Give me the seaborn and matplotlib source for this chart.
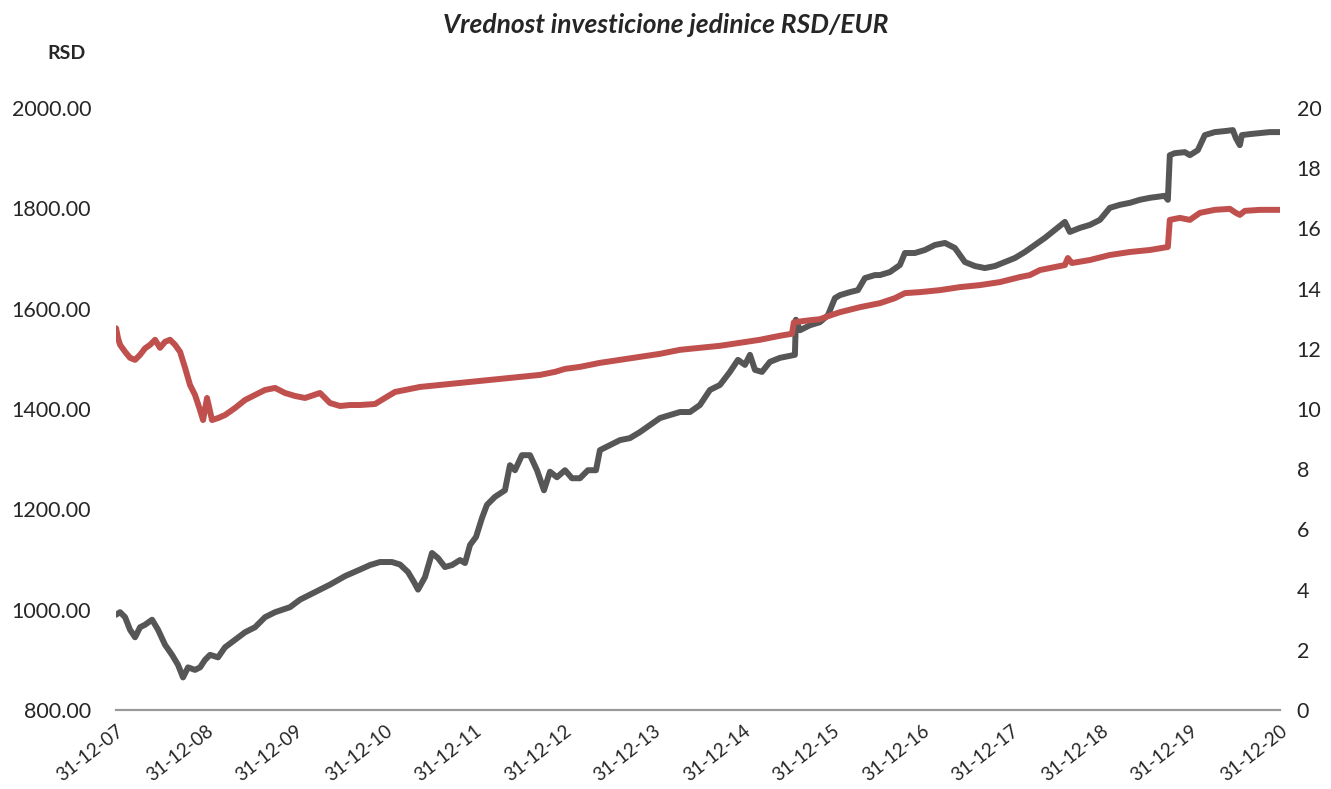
import numpy as np
import pandas as pd
import matplotlib
matplotlib.use("Agg")
import matplotlib.pyplot as plt
from matplotlib.ticker import FormatStrFormatter, MultipleLocator
import seaborn as sns

# -----------------------------
# Data, x = years since 31-12-2007
# -----------------------------
t_rsd = [0.000, 0.045, 0.101, 0.156, 0.212, 0.268, 0.324, 0.402, 0.469, 0.547,
         0.625, 0.692, 0.748, 0.804, 0.882, 0.938, 0.994, 1.050, 1.139, 1.217,
         1.329, 1.441, 1.552, 1.664, 1.776, 1.943, 2.055, 2.222, 2.390, 2.558,
         2.725, 2.837, 2.948, 3.082, 3.172, 3.261, 3.328, 3.373, 3.451, 3.529,
         3.596, 3.674, 3.753, 3.842, 3.898, 3.954, 4.021, 4.088, 4.143, 4.233,
         4.344, 4.400, 4.456, 4.534, 4.624, 4.702, 4.780, 4.847, 4.925, 5.015,
         5.093, 5.182, 5.271, 5.361, 5.405, 5.517, 5.629, 5.740, 5.852, 5.964,
         6.076, 6.187, 6.299, 6.411, 6.522, 6.634, 6.746, 6.857, 6.947, 7.025,
         7.081, 7.137, 7.215, 7.304, 7.416, 7.527, 7.583, 7.594, 7.639, 7.751,
         7.862, 7.952, 8.030, 8.086, 8.198, 8.287, 8.365, 8.477, 8.533, 8.644,
         8.756, 8.812, 8.923, 9.035, 9.147, 9.259, 9.370, 9.482, 9.594, 9.705,
         9.817, 9.929, 10.040, 10.152, 10.264, 10.375, 10.487, 10.599, 10.654, 10.766,
         10.878, 10.990, 11.101, 11.213, 11.325, 11.436, 11.548, 11.716, 11.749, 11.771,
         11.827, 11.939, 11.995, 12.084, 12.162, 12.274, 12.386, 12.475, 12.509, 12.553,
         12.576, 12.665, 12.777, 12.888, 13.000]
rsd = [990, 995, 985, 960, 945, 965, 970, 980, 960, 930,
       910, 890, 865, 885, 880, 885, 900, 910, 905, 925,
       940, 955, 965, 985, 995, 1005, 1020, 1035, 1050, 1067,
       1080, 1089, 1095, 1095, 1090, 1075, 1055, 1040, 1065, 1113,
       1103, 1085, 1089, 1099, 1093, 1129, 1145, 1183, 1209, 1225,
       1238, 1288, 1278, 1308, 1308, 1278, 1238, 1275, 1264, 1278,
       1262, 1262, 1278, 1278, 1318, 1328, 1338, 1342, 1354, 1368,
       1382, 1388, 1394, 1394, 1408, 1438, 1448, 1474, 1498, 1488,
       1508, 1478, 1474, 1494, 1502, 1506, 1508, 1578, 1557, 1567,
       1573, 1587, 1621, 1627, 1633, 1637, 1661, 1667, 1667, 1673,
       1687, 1711, 1711, 1717, 1727, 1731, 1721, 1693, 1685, 1681,
       1685, 1693, 1701, 1713, 1727, 1741, 1757, 1773, 1753, 1761,
       1767, 1777, 1801, 1807, 1811, 1817, 1821, 1825, 1817, 1906,
       1910, 1912, 1906, 1916, 1946, 1952, 1954, 1956, 1940, 1926,
       1946, 1948, 1950, 1952, 1952]

t_eur = [0.000, 0.022, 0.045, 0.101, 0.156, 0.212, 0.268, 0.324, 0.380, 0.436,
         0.491, 0.547, 0.603, 0.659, 0.715, 0.771, 0.826, 0.882, 0.938, 0.972,
         1.016, 1.072, 1.139, 1.217, 1.329, 1.441, 1.552, 1.664, 1.776, 1.887,
         1.999, 2.111, 2.278, 2.390, 2.502, 2.614, 2.725, 2.893, 3.004, 3.116,
         3.228, 3.395, 3.619, 3.842, 4.065, 4.289, 4.512, 4.735, 4.903, 5.015,
         5.182, 5.405, 5.629, 5.852, 6.076, 6.299, 6.522, 6.746, 6.969, 7.192,
         7.416, 7.550, 7.572, 7.751, 7.862, 7.952, 8.086, 8.309, 8.533, 8.700,
         8.812, 8.980, 9.203, 9.426, 9.650, 9.873, 10.096, 10.208, 10.320, 10.431,
         10.599, 10.632, 10.677, 10.878, 11.101, 11.325, 11.548, 11.749, 11.771, 11.883,
         11.995, 12.107, 12.274, 12.442, 12.509, 12.553, 12.609, 12.777, 13.000]
# EUR unit value, read against the left scale (800-2000 <-> 0-20 on the right)
eur_lv = [1561, 1541, 1528, 1514, 1502, 1498, 1508, 1521, 1528, 1538,
          1522, 1534, 1538, 1528, 1514, 1482, 1448, 1428, 1398, 1378,
          1422, 1378, 1382, 1388, 1402, 1418, 1428, 1438, 1442, 1432,
          1426, 1422, 1432, 1412, 1406, 1408, 1408, 1410, 1422, 1434,
          1438, 1444, 1448, 1452, 1456, 1460, 1464, 1468, 1474, 1480,
          1484, 1492, 1498, 1504, 1510, 1518, 1522, 1526, 1532, 1538,
          1546, 1550, 1573, 1577, 1579, 1585, 1593, 1603, 1611, 1621,
          1631, 1633, 1637, 1643, 1647, 1653, 1663, 1667, 1677, 1681,
          1687, 1701, 1691, 1697, 1707, 1713, 1717, 1723, 1777, 1781,
          1777, 1791, 1797, 1799, 1791, 1787, 1795, 1797, 1797]
eur = [(v - 800) / 60 for v in eur_lv]

x_ticks = ["31-12-07", "31-12-08", "31-12-09", "31-12-10", "31-12-11", "31-12-12", "31-12-13",
           "31-12-14", "31-12-15", "31-12-16", "31-12-17", "31-12-18", "31-12-19", "31-12-20"]

start = pd.Timestamp("2007-12-31")
df_rsd = pd.DataFrame({"date": start + pd.to_timedelta(np.array(t_rsd) * 365.25, unit="D"), "value": rsd})
df_eur = pd.DataFrame({"date": start + pd.to_timedelta(np.array(t_eur) * 365.25, unit="D"), "value": eur})

# -----------------------------
# Plot
# -----------------------------
sns.set_style("white")
plt.rcParams["font.family"] = ["Lato", "DejaVu Sans"]

fig = plt.figure(figsize=(13.31, 7.89), dpi=100)
ax = fig.add_axes([0.0872, 0.1001, 0.8745, 0.7630])
ax2 = ax.twinx()

sns.lineplot(data=df_rsd, x="date", y="value", ax=ax, color="#565656", linewidth=4.3)
sns.lineplot(data=df_eur, x="date", y="value", ax=ax2, color="#C0504D", linewidth=4.3)

tick_dates = pd.to_datetime(x_ticks, format="%d-%m-%y")
ax.set_xlim(tick_dates[0], tick_dates[-1])
ax.set_xticks(tick_dates)
ax.set_xticklabels(x_ticks, rotation=38, ha="right", rotation_mode="anchor", fontsize=13.5)

ax.set_ylim(800, 2000)
ax.yaxis.set_major_locator(MultipleLocator(200))
ax.yaxis.set_major_formatter(FormatStrFormatter("%.2f"))
ax2.set_ylim(0, 20)
ax2.yaxis.set_major_locator(MultipleLocator(2))

for a in (ax, ax2):
    a.set_xlabel("")
    a.set_ylabel("")
    for s in ("top", "left", "right"):
        a.spines[s].set_visible(False)
    a.spines["bottom"].set_color("#999999")
    a.spines["bottom"].set_linewidth(1.5)
    a.grid(False)

ax.tick_params(axis="y", length=0, labelsize=15.5, pad=18)
ax2.tick_params(axis="y", length=0, labelsize=15.5, pad=12)
ax.tick_params(axis="x", direction="out", length=7, width=1.5, color="#999999", pad=2)

fig.text(0.5, 0.968, "Vrednost investicione jedinice RSD/EUR", ha="center", va="center",
         fontsize=19, fontweight="bold", fontstyle="italic")
fig.text(0.050, 0.932, "RSD", ha="center", va="center", fontsize=14, fontweight="bold")

fig.savefig("out.png", dpi=100)
